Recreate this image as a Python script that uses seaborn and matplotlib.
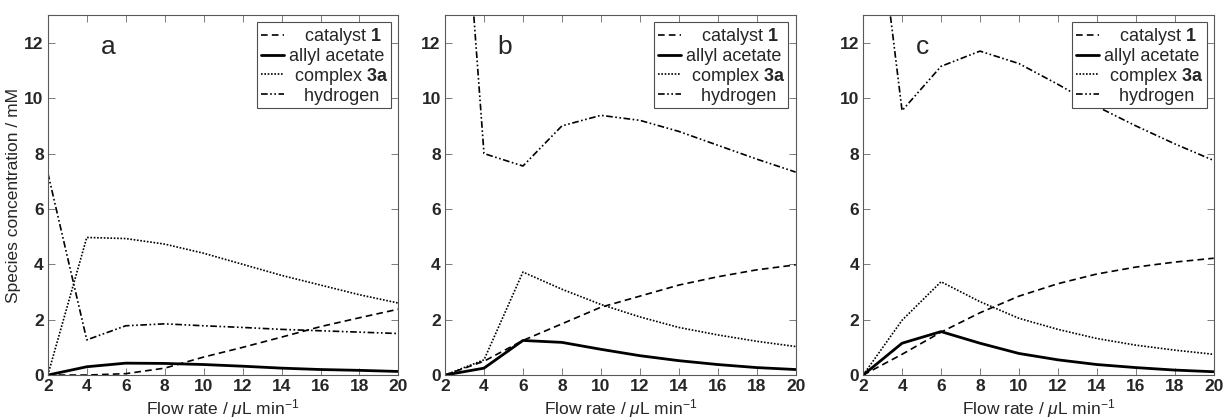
import matplotlib
matplotlib.use('Agg')
import matplotlib.pyplot as plt
import seaborn as sns
import pandas as pd

flow = [2, 4, 6, 8, 10, 12, 14, 16, 18, 20]

# panel a
cat_a = [0, 0.0, 0.05, 0.25, 0.65, 1.0, 1.37, 1.75, 2.07, 2.38]
allyl_a = [0, 0.3, 0.43, 0.42, 0.38, 0.32, 0.25, 0.2, 0.17, 0.13]
cplx_a = [0, 4.97, 4.93, 4.73, 4.4, 4.0, 3.6, 3.25, 2.9, 2.6]
h2_a = [7.3, 1.27, 1.78, 1.85, 1.78, 1.72, 1.65, 1.6, 1.55, 1.5]

# panel b
cat_b = [0, 0.5, 1.25, 1.85, 2.45, 2.85, 3.25, 3.55, 3.8, 3.98]
allyl_b = [0, 0.25, 1.25, 1.18, 0.93, 0.7, 0.52, 0.38, 0.27, 0.2]
cplx_b = [0, 0.55, 3.72, 3.1, 2.55, 2.1, 1.72, 1.45, 1.22, 1.03]
h2_b = [27.0, 8.0, 7.55, 9.0, 9.38, 9.2, 8.8, 8.3, 7.8, 7.33]

# panel c
cat_c = [0, 0.75, 1.55, 2.25, 2.85, 3.3, 3.65, 3.9, 4.08, 4.22]
allyl_c = [0, 1.15, 1.57, 1.15, 0.78, 0.55, 0.38, 0.27, 0.18, 0.12]
cplx_c = [0, 1.98, 3.37, 2.65, 2.05, 1.65, 1.32, 1.08, 0.9, 0.75]
h2_c = [21.0, 9.55, 11.15, 11.7, 11.25, 10.5, 9.7, 9.0, 8.35, 7.75]

panels = ['a', 'b', 'c']
series = {
    'a': [cat_a, allyl_a, cplx_a, h2_a],
    'b': [cat_b, allyl_b, cplx_b, h2_b],
    'c': [cat_c, allyl_c, cplx_c, h2_c],
}
labels = ['   catalyst $\\mathbf{1}$', 'allyl acetate', ' complex $\\mathbf{3a}$', '   hydrogen']
styles = [(0, (4, 2.5)), '-', (0, (1, 1)), (0, (4, 1.5, 1, 1.5, 1, 1.5))]
widths = [1.2, 2.0, 1.2, 1.2]

sns.set_style('ticks')
plt.rcParams['font.family'] = ['Liberation Sans', 'DejaVu Sans']
plt.rcParams['mathtext.fontset'] = 'custom'
plt.rcParams['mathtext.rm'] = 'Liberation Sans'
plt.rcParams['mathtext.it'] = 'Liberation Sans:italic'
plt.rcParams['mathtext.bf'] = 'Liberation Sans:bold'

fig = plt.figure(figsize=(12.26, 4.2), dpi=100)
lefts = [0.039, 0.363, 0.704]

for p, left in zip(panels, lefts):
    ax = fig.add_axes([left, 0.107, 0.286, 0.857])
    for vals, lab, ls, lw in zip(series[p], labels, styles, widths):
        df = pd.DataFrame({'flow': flow, 'conc': vals})
        sns.lineplot(data=df, x='flow', y='conc', ax=ax, color='k',
                     linestyle=ls, linewidth=lw, label=lab)
    ax.set_xlim(2, 20)
    ax.set_ylim(0, 13)
    ax.set_xticks(range(2, 21, 2))
    ax.set_yticks(range(0, 13, 2))
    ax.tick_params(direction='in', top=True, right=True, length=5,
                   width=0.6, color='0.4', labelsize=12.5, pad=3)
    for t in ax.get_xticklabels() + ax.get_yticklabels():
        t.set_fontweight('bold')
    for s in ax.spines.values():
        s.set_color('0.35')
        s.set_linewidth(0.8)
    ax.set_xlabel('Flow rate / $\\mu$L min$^{-1}$', fontsize=12.5, labelpad=2)
    if p == 'a':
        ax.set_ylabel('Species concentration / mM', fontsize=12.5, labelpad=2)
    else:
        ax.set_ylabel('')
    ax.text(4.7, 11.6, p, fontsize=19)
    leg = ax.legend(loc='upper right', fontsize=13, handlelength=1.3,
                    handletextpad=0.25, labelspacing=0.05, borderpad=0.2,
                    borderaxespad=0.4, fancybox=False, framealpha=1)
    leg.get_frame().set_edgecolor('0.3')
    leg.get_frame().set_linewidth(0.8)

fig.savefig('out.png', dpi=100)
